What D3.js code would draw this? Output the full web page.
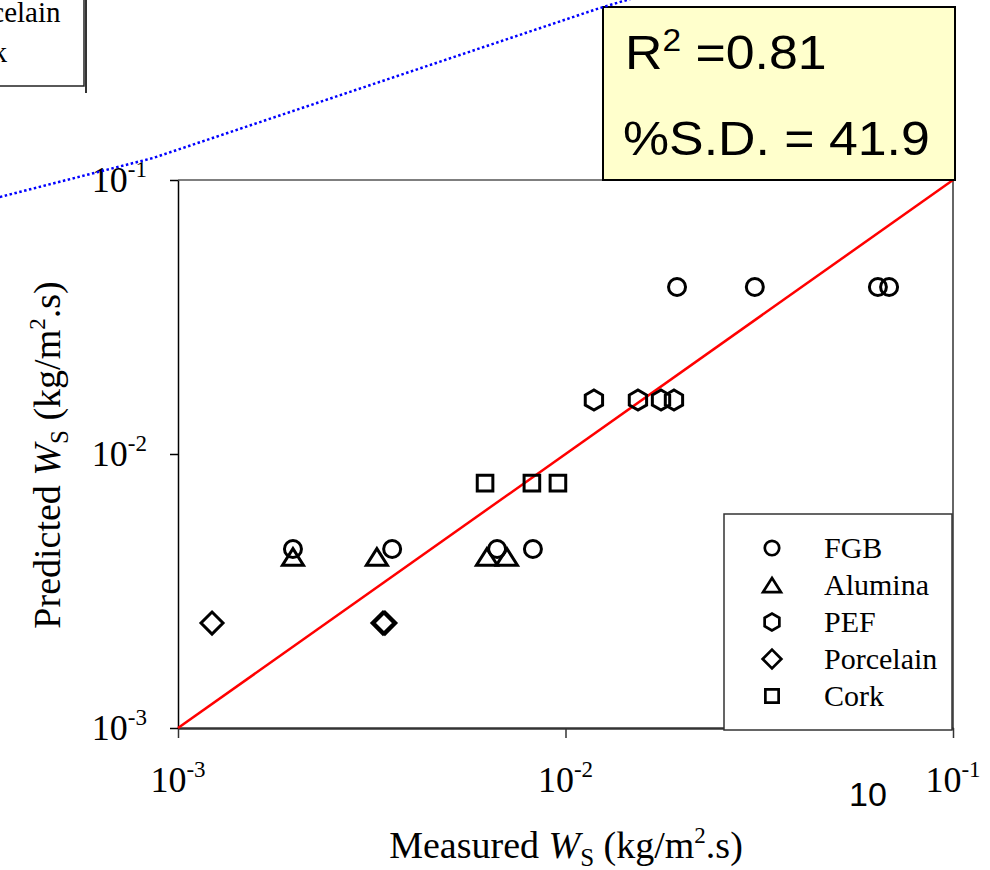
<!DOCTYPE html>
<html><head><meta charset="utf-8">
<script src="https://cdn.jsdelivr.net/npm/d3@7"></script>
<style>body{margin:0;background:#fff}svg{display:block}</style>
</head><body>
<svg id="c" width="990" height="870"></svg>
<script>
// ---- data ----
const seriesNames = ["FGB", "Alumina", "PEF", "Porcelain", "Cork"];
const seriesShapes = ["circle", "triangle", "hexagon", "diamond", "square"];
const fgbX = [0.00198, 0.00357, 0.00666, 0.00824, 0.0194, 0.0308, 0.0640, 0.0684];
const fgbY = [0.0045, 0.0045, 0.0045, 0.0045, 0.0407, 0.0407, 0.0407, 0.0407];
const aluminaX = [0.00198, 0.00326, 0.00627, 0.00706];
const aluminaY = [0.00421, 0.00421, 0.00421, 0.00421];
const pefX = [0.01184, 0.01538, 0.01764, 0.01905];
const pefY = [0.01574, 0.01574, 0.01574, 0.01574];
const porcelainX = [0.001224, 0.00338, 0.00342];
const porcelainY = [0.002416, 0.002416, 0.002416];
const corkX = [0.0062, 0.00819, 0.00956];
const corkY = [0.00783, 0.00783, 0.00783];
const tickValues = [1e-3, 1e-2, 1e-1];
const tickExponents = ["-3", "-2", "-1"];
const diagonal = [1e-3, 1e-1];
const dottedX = [3.47e-4, 8.62e-4, 0.01227, 0.01556];
const dottedY = [0.0867, 0.1203, 0.4244, 0.469];
const r2Text = "0.81";
const sdText = "41.9";

const serif = "'Liberation Serif','Times New Roman',serif";
const sans = "'Liberation Sans',Arial,sans-serif";

const svg = d3.select("#c");
const x = d3.scaleLog().domain([1e-3, 1e-1]).range([178, 953]);
const y = d3.scaleLog().domain([1e-3, 1e-1]).range([728, 180]);

function shapePath(type, s) {
  const p = d3.path();
  if (type === "circle") { p.arc(0, 0, 8.5 * s, 0, 2 * Math.PI); p.closePath(); }
  else if (type === "triangle") { const w = 10.5 * s, h = 8.3 * s; p.moveTo(0, -h); p.lineTo(w, h); p.lineTo(-w, h); p.closePath(); }
  else if (type === "hexagon") { const r = 10 * s; for (let k = 0; k < 6; k++) { const a = Math.PI / 2 + k * Math.PI / 3; const px = r * Math.cos(a), py = r * Math.sin(a); if (k === 0) p.moveTo(px, py); else p.lineTo(px, py); } p.closePath(); }
  else if (type === "diamond") { const r = 11 * s; p.moveTo(0, -r); p.lineTo(r, 0); p.lineTo(0, r); p.lineTo(-r, 0); p.closePath(); }
  else if (type === "square") { const h = 7.8 * s; p.rect(-h, -h, 2 * h, 2 * h); }
  return p.toString();
}

// frame
svg.append("line").attr("x1", x(1e-3)).attr("x2", x(1e-1)).attr("y1", y(1e-1)).attr("y2", y(1e-1)).attr("stroke", "#555").attr("stroke-width", 1.5);
svg.append("line").attr("x1", x(1e-1)).attr("x2", x(1e-1)).attr("y1", y(1e-1)).attr("y2", y(1e-3)).attr("stroke", "#333").attr("stroke-width", 1.5);

// axes
const xAxis = svg.append("g").attr("transform", `translate(0,${y(1e-3)})`)
  .call(d3.axisBottom(x).tickValues(tickValues).tickSize(10).tickSizeOuter(0).tickFormat(""));
xAxis.select(".domain").attr("stroke", "#333").attr("stroke-width", 2.5);
xAxis.selectAll(".tick line").attr("stroke", "#333").attr("stroke-width", 1.5);
const yAxis = svg.append("g").attr("transform", `translate(${x(1e-3)},0)`)
  .call(d3.axisLeft(y).tickValues(tickValues).tickSize(8).tickSizeOuter(0).tickFormat(""));
yAxis.select(".domain").attr("stroke", "#000").attr("stroke-width", 1.5);
yAxis.selectAll(".tick line").attr("stroke", "#000").attr("stroke-width", 1.5);

// tick labels
tickValues.forEach((v, i) => {
  const t = svg.append("text").attr("x", x(v)).attr("y", y(1e-3) + 64).attr("text-anchor", "middle")
    .attr("font-family", serif).attr("font-size", 36).attr("fill", "#000");
  t.append("tspan").text("10");
  t.append("tspan").attr("dy", -15).attr("font-size", 23).text(tickExponents[i]);
  const u = svg.append("text").attr("x", x(1e-3) - 31).attr("y", y(v) + 12).attr("text-anchor", "end")
    .attr("font-family", serif).attr("font-size", 36).attr("fill", "#000");
  u.append("tspan").text("10");
  u.append("tspan").attr("dy", -15).attr("font-size", 23).text(tickExponents[i]);
});
svg.append("text").attr("x", 849).attr("y", 806).attr("font-family", sans).attr("font-size", 34).text("10");

// axis titles
function axisTitle(g, label) {
  g.append("tspan").text(label + " ");
  g.append("tspan").attr("font-style", "italic").text("W");
  g.append("tspan").attr("font-size", 25).attr("dy", 8).text("S");
  g.append("tspan").attr("dy", -8).text(" (kg/m");
  g.append("tspan").attr("font-size", 23).attr("dy", -15).text("2");
  g.append("tspan").attr("dy", 15).text(".s)");
}
const xt = svg.append("text").attr("x", 566).attr("y", 858).attr("text-anchor", "middle")
  .attr("font-family", serif).attr("font-size", 38);
axisTitle(xt, "Measured");
const yt = svg.append("text").attr("transform", "translate(60,455) rotate(-90)").attr("text-anchor", "middle")
  .attr("font-family", serif).attr("font-size", 38);
axisTitle(yt, "Predicted");

// diagonal
svg.append("line").attr("x1", x(diagonal[0])).attr("y1", y(diagonal[0])).attr("x2", x(diagonal[1])).attr("y2", y(diagonal[1]))
  .attr("stroke", "#ff0000").attr("stroke-width", 2.5);

// markers
const series = [[fgbX, fgbY], [aluminaX, aluminaY], [pefX, pefY], [porcelainX, porcelainY], [corkX, corkY]];
series.forEach(([xs, ys], i) => {
  svg.append("g").selectAll("path").data(xs.map((v, j) => [v, ys[j]])).join("path")
    .attr("d", shapePath(seriesShapes[i], 1))
    .attr("transform", d => `translate(${x(d[0])},${y(d[1])})`)
    .attr("fill", "none").attr("stroke", "#000").attr("stroke-width", 3);
});

// legend
const lg = svg.append("g");
lg.append("rect").attr("x", 724).attr("y", 514).attr("width", 228).attr("height", 216)
  .attr("fill", "#fff").attr("stroke", "#333").attr("stroke-width", 1.5);
seriesNames.forEach((n, i) => {
  const cy = 548 + i * 37;
  lg.append("path").attr("d", shapePath(seriesShapes[i], 0.85)).attr("transform", `translate(772,${cy})`)
    .attr("fill", "none").attr("stroke", "#000").attr("stroke-width", 2.7);
  lg.append("text").attr("x", 824).attr("y", cy + 10).attr("font-family", serif).attr("font-size", 30).text(n);
});

// stats box
svg.append("rect").attr("x", 603).attr("y", 7).attr("width", 352).attr("height", 173)
  .attr("fill", "#ffffcc").attr("stroke", "#000").attr("stroke-width", 2);
const s1 = svg.append("text").attr("transform", "translate(625,69) scale(1.08,1)").attr("font-family", sans).attr("font-size", 48);
s1.append("tspan").text("R");
s1.append("tspan").attr("font-size", 31).attr("dy", -18).text("2");
s1.append("tspan").attr("dy", 18).text(" =" + r2Text);
svg.append("text").attr("transform", "translate(623,155) scale(1.08,1)").attr("font-family", sans).attr("font-size", 48).text("%S.D. = " + sdText);

// partial legend copy top-left
svg.append("rect").attr("x", -200).attr("y", -10).attr("width", 284).attr("height", 96)
  .attr("fill", "#fff").attr("stroke", "#222").attr("stroke-width", 1.5);
svg.append("line").attr("x1", 86).attr("x2", 86).attr("y1", 0).attr("y2", 93).attr("stroke", "#333").attr("stroke-width", 2);
svg.append("text").attr("x", -49).attr("y", 22).attr("font-family", serif).attr("font-size", 29).text("Porcelain");
svg.append("text").attr("x", -51).attr("y", 62).attr("font-family", serif).attr("font-size", 29).text("Cork");

// dotted blue line
svg.append("path").datum(dottedX.map((v, j) => [v, dottedY[j]]))
  .attr("d", d3.line().x(d => x(d[0])).y(d => y(d[1])))
  .attr("fill", "none").attr("stroke", "#0000ff").attr("stroke-width", 2.5).attr("stroke-dasharray", "2.5,2.5");
</script>
</body></html>
